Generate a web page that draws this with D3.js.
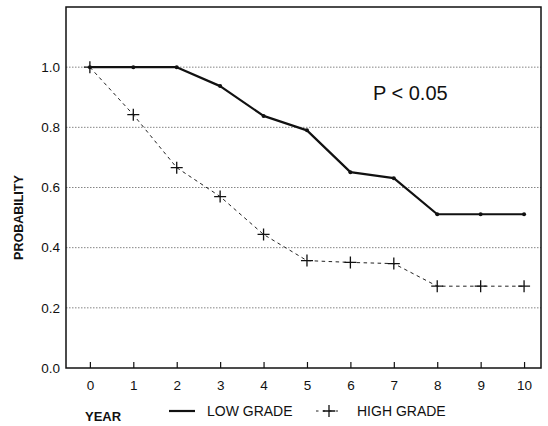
<!DOCTYPE html>
<html>
<head>
<meta charset="utf-8">
<script src="https://cdn.jsdelivr.net/npm/d3@7"></script>
<style>
  html, body { margin: 0; padding: 0; background: #fff; }
  svg { display: block; }
  text { font-family: "Liberation Sans", Arial, Helvetica, sans-serif; fill: #111; }
</style>
</head>
<body>
<svg id="chart" width="548" height="426"></svg>
<script>
// Survival probability by year for low- and high-grade tumours
const years = [0, 1, 2, 3, 4, 5, 6, 7, 8, 9, 10];
const lowGrade = [1.0, 1.0, 1.0, 0.937, 0.838, 0.79, 0.651, 0.631, 0.511, 0.511, 0.511];
const highGrade = [1.0, 0.842, 0.666, 0.57, 0.444, 0.357, 0.351, 0.347, 0.272, 0.272, 0.272];
const yTicks = [0.0, 0.2, 0.4, 0.6, 0.8, 1.0];
const seriesNames = ["LOW GRADE", "HIGH GRADE"];
const pLabel = "P < 0.05";

const svg = d3.select("#chart");
const frame = { left: 66, top: 7, right: 541, bottom: 368 };

const x = d3.scaleLinear().domain([-0.55, 10.39]).range([frame.left, frame.right]);
const y = d3.scaleLinear().domain([0, 1.2]).range([frame.bottom, frame.top]);

// dotted horizontal grid
svg.append("g")
  .selectAll("line")
  .data(yTicks.filter(d => d > 0))
  .join("line")
  .attr("x1", frame.left).attr("x2", frame.right)
  .attr("y1", d => y(d)).attr("y2", d => y(d))
  .attr("stroke", "#777")
  .attr("stroke-width", 0.9)
  .attr("stroke-dasharray", "1.5,1.5");

// y axis labels (no tick marks)
const yAxis = d3.axisLeft(y).tickValues(yTicks).tickFormat(d3.format(".1f")).tickSize(0).tickPadding(6);
svg.append("g")
  .attr("transform", `translate(${frame.left},0)`)
  .call(yAxis)
  .call(g => g.select(".domain").remove())
  .call(g => g.selectAll("text").attr("font-size", 13.5).attr("fill", "#111")
    .attr("font-family", "Liberation Sans, Arial, sans-serif"));

// x axis: ticks pointing up into the plot
const xAxis = d3.axisBottom(x).tickValues(years).tickFormat(d3.format("d")).tickSize(-6).tickPadding(12);
svg.append("g")
  .attr("transform", `translate(0,${frame.bottom})`)
  .call(xAxis)
  .call(g => g.select(".domain").remove())
  .call(g => g.selectAll("line").attr("stroke", "#111").attr("stroke-width", 1.2))
  .call(g => g.selectAll("text").attr("font-size", 13.5).attr("fill", "#111")
    .attr("font-family", "Liberation Sans, Arial, sans-serif"));

// plot frame
svg.append("rect")
  .attr("x", frame.left).attr("y", frame.top)
  .attr("width", frame.right - frame.left)
  .attr("height", frame.bottom - frame.top)
  .attr("fill", "none")
  .attr("stroke", "#111")
  .attr("stroke-width", 1.5);

const line = d3.line().x((d, i) => x(years[i])).y(d => y(d));

// low grade: heavy solid line with small dots
svg.append("path")
  .datum(lowGrade)
  .attr("d", line)
  .attr("fill", "none")
  .attr("stroke", "#111")
  .attr("stroke-width", 2.2)
  .attr("stroke-linejoin", "round");
svg.append("g")
  .selectAll("circle")
  .data(lowGrade)
  .join("circle")
  .attr("cx", (d, i) => x(years[i]))
  .attr("cy", d => y(d))
  .attr("r", 2)
  .attr("fill", "#111");

// high grade: thin dashed line with plus markers
svg.append("path")
  .datum(highGrade)
  .attr("d", line)
  .attr("fill", "none")
  .attr("stroke", "#222")
  .attr("stroke-width", 1)
  .attr("stroke-dasharray", "3.5,3.5");
const crossArm = 6;
const crossPath = (cx, cy) =>
  `M${cx - crossArm},${cy}H${cx + crossArm}M${cx},${cy - crossArm}V${cy + crossArm}`;
svg.append("g")
  .selectAll("path")
  .data(highGrade)
  .join("path")
  .attr("d", (d, i) => crossPath(x(years[i]), y(d)))
  .attr("stroke", "#111")
  .attr("stroke-width", 1.3)
  .attr("fill", "none");

// significance note
svg.append("text")
  .attr("x", x(6.52)).attr("y", y(0.89))
  .attr("font-size", 20)
  .text(pLabel);

// axis titles
svg.append("text")
  .attr("transform", `translate(23,${y(0.5)}) rotate(-90)`)
  .attr("text-anchor", "middle")
  .attr("font-size", 12.5)
  .attr("font-weight", "bold")
  .text("PROBABILITY");

svg.append("text")
  .attr("x", 85).attr("y", 421)
  .attr("font-size", 13)
  .attr("font-weight", "bold")
  .text("YEAR");

// legend
const legendY = 411;
const legend = svg.append("g");
legend.append("line")
  .attr("x1", 169).attr("x2", 195)
  .attr("y1", legendY).attr("y2", legendY)
  .attr("stroke", "#111").attr("stroke-width", 2.2);
legend.append("text")
  .attr("x", 207).attr("y", legendY + 5)
  .attr("font-size", 14)
  .text(seriesNames[0]);
legend.append("line")
  .attr("x1", 316).attr("x2", 342)
  .attr("y1", legendY).attr("y2", legendY)
  .attr("stroke", "#222").attr("stroke-width", 1)
  .attr("stroke-dasharray", "2.5,4");
legend.append("path")
  .attr("d", crossPath(329, legendY))
  .attr("stroke", "#111").attr("stroke-width", 1.3);
legend.append("text")
  .attr("x", 357).attr("y", legendY + 5)
  .attr("font-size", 14)
  .text(seriesNames[1]);
</script>
</body>
</html>
